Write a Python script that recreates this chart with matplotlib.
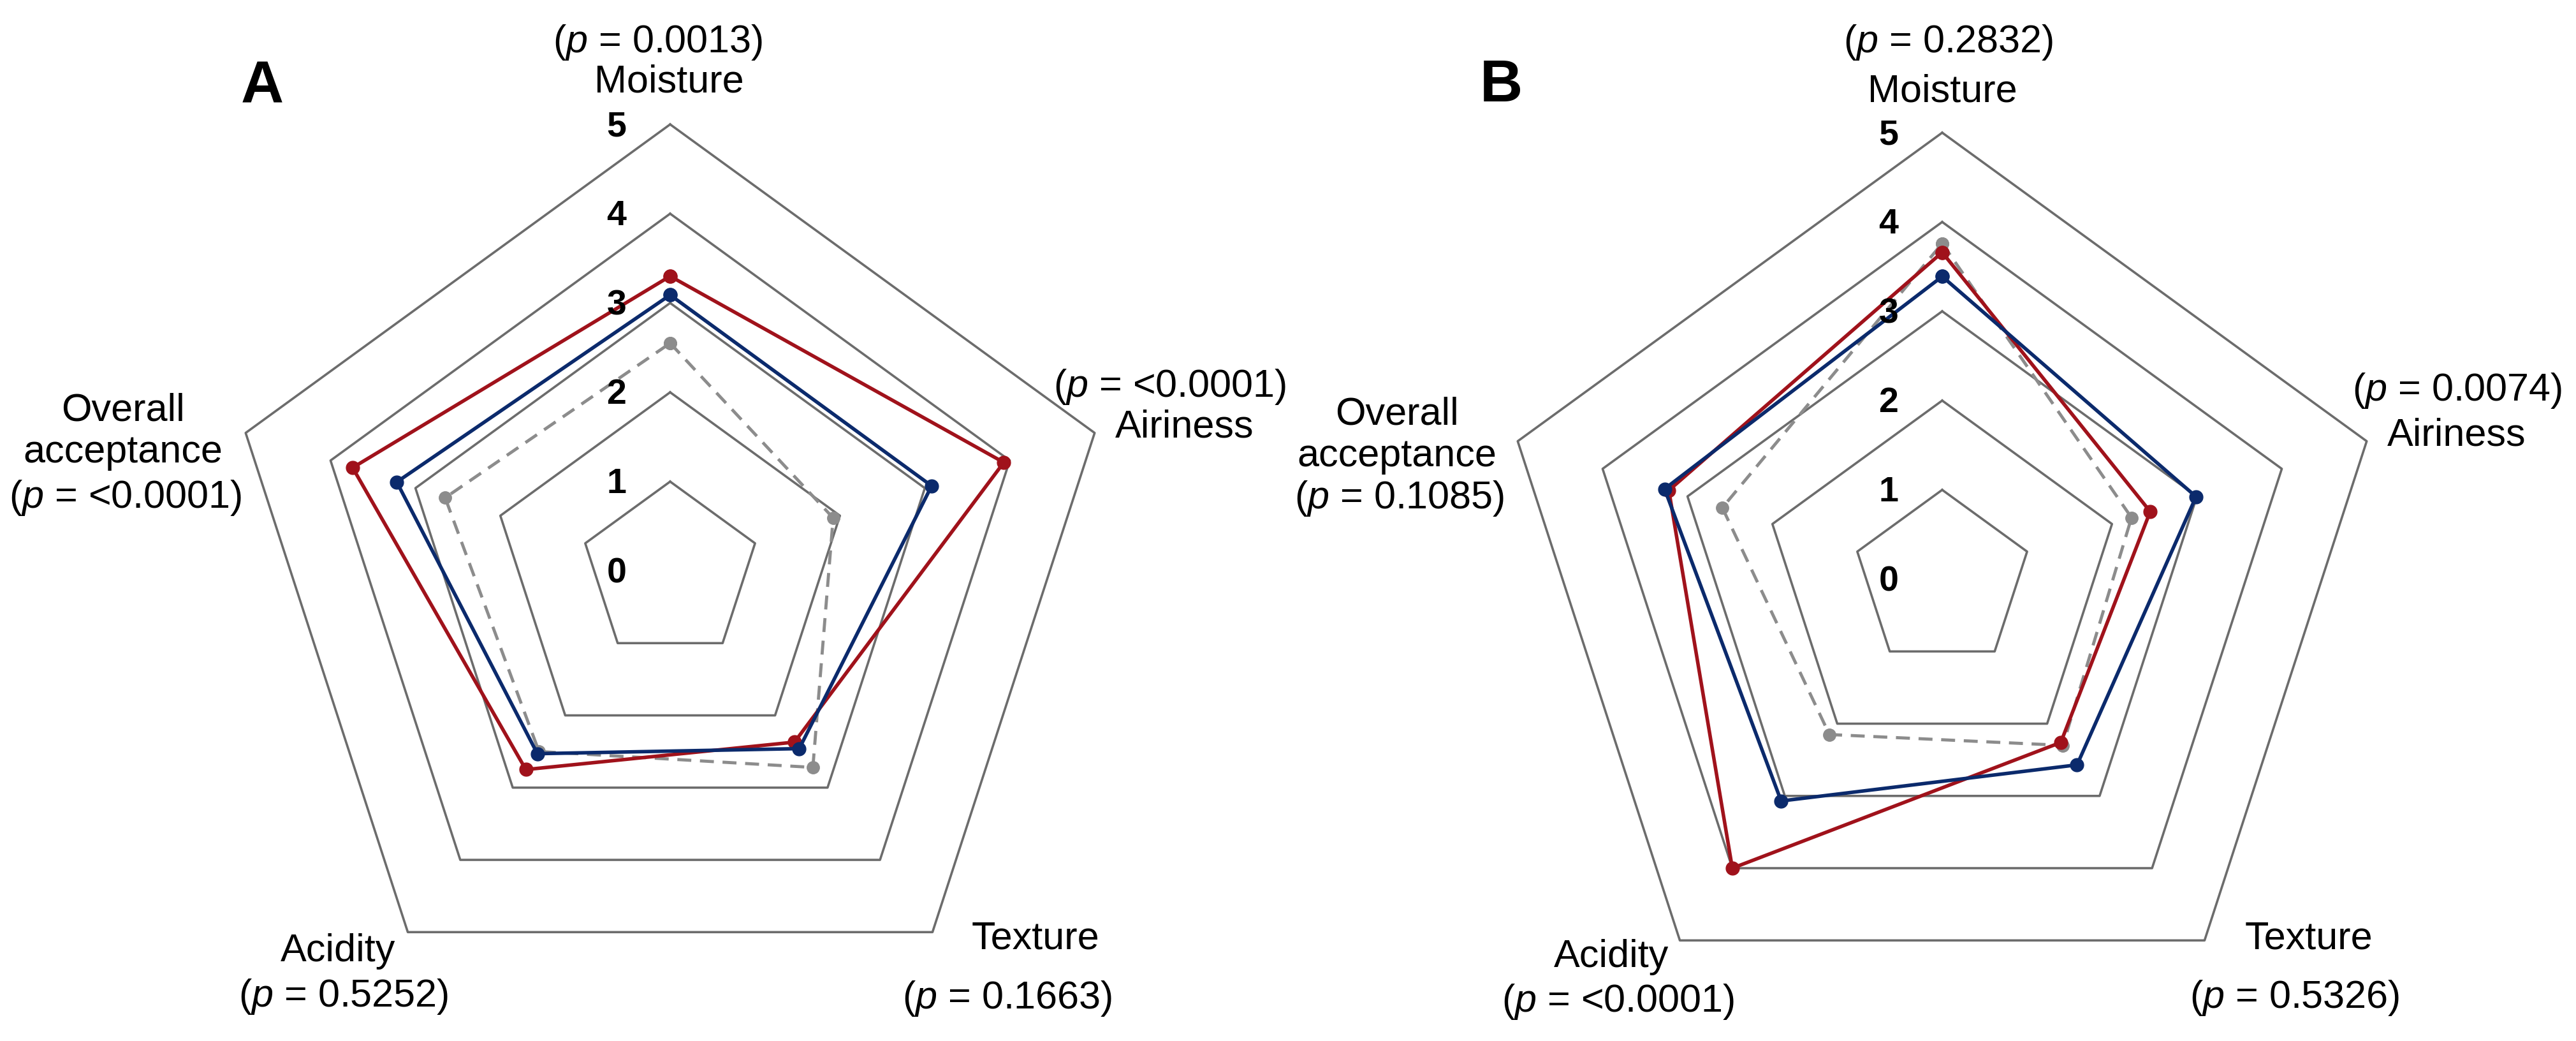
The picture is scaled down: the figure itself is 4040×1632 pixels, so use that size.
import matplotlib
matplotlib.use('Agg')
import matplotlib.pyplot as plt
import numpy as np

# attributes, clockwise from the top
attributes = ['Moisture', 'Airiness', 'Texture', 'Acidity', 'Overall\nacceptance']
p_values_a = ['0.0013', '<0.0001', '0.1663', '0.5252', '<0.0001']
p_values_b = ['0.2832', '0.0074', '0.5326', '<0.0001', '0.1085']

# mean scores
a_red = [3.30, 3.93, 2.37, 2.75, 3.74]
a_blue = [3.09, 3.08, 2.46, 2.53, 3.22]
a_gray = [2.55, 1.92, 2.72, 2.50, 2.65]

b_red = [3.66, 2.45, 2.26, 4.00, 3.22]
b_blue = [3.39, 2.99, 2.57, 3.07, 3.27]
b_gray = [3.76, 2.23, 2.30, 2.15, 2.59]

ring_levels = [1, 2, 3, 4, 5]
tick_labels = ['0', '1', '2', '3', '4', '5']

plt.rcParams['font.family'] = ['Liberation Sans', 'DejaVu Sans']
plt.rcParams['mathtext.fontset'] = 'custom'
plt.rcParams['mathtext.rm'] = 'Liberation Sans'
plt.rcParams['mathtext.it'] = 'Liberation Sans:italic'

W, H = 4041, 1632
UNIT = 140.0   # pixels per score unit
HALF = 995.0

RED = '#a0121b'
BLUE = '#0b2a6c'
GRAY = '#8c8c8c'
RING = '#6c6c6c'

fig = plt.figure(figsize=(W / 100, H / 100), dpi=100)

angles = np.deg2rad(90 - 72 * np.arange(5))


def to_xy(values):
    v = np.array(values + values[:1])
    a = np.append(angles, angles[0])
    return v * np.cos(a), v * np.sin(a)


def make_axes(cx, cy):
    ax = fig.add_axes([(cx - HALF) / W, 0, 2 * HALF / W, 1])
    ax.set_xlim(-HALF / UNIT, HALF / UNIT)
    ax.set_ylim(-(H - cy) / UNIT, cy / UNIT)
    ax.axis('off')
    return ax


def radar(ax, red, blue, gray, pvals, layout, letter):
    # grid pentagons
    for lev in ring_levels:
        x, y = to_xy([lev] * 5)
        ax.plot(x, y, color=RING, linewidth=2.6, zorder=1)
    for i, t in enumerate(tick_labels):
        ax.text(-0.6, i - 0.03, t, fontsize=40, fontweight='bold', ha='center', va='center', zorder=6)

    x, y = to_xy(gray)
    ax.plot(x, y, color=GRAY, linewidth=3.5, linestyle=(0, (4.5, 2.8)), marker='o',
            markersize=14, zorder=3)
    x, y = to_xy(red)
    ax.plot(x, y, color=RED, linewidth=4.0, marker='o', markersize=15, zorder=4)
    x, y = to_xy(blue)
    ax.plot(x, y, color=BLUE, linewidth=4.0, marker='o', markersize=15, zorder=5)

    # attribute names and p values
    for name, p, (nx_, ny_, px_, py_) in zip(attributes, pvals, layout):
        ax.text(nx_, ny_, name, fontsize=44, ha='center', va='center', linespacing=1.2)
        ax.text(px_, py_, '($\\it{p}$ = ' + p + ')', fontsize=44, ha='center', va='center')

    ax.text(letter[0], letter[1], letter[2], fontsize=67, fontweight='bold', ha='center', va='center')


# label layout: name x, name y, p x, p y (score units from centre)
layout_a = [(-0.01, 5.47, -0.14, 5.92),
            (5.76, 1.61, 5.60, 2.06),
            (4.09, -4.12, 3.78, -4.79),
            (-3.72, -4.26, -3.66, -4.77),
            (-6.13, 1.56, -6.10, 0.82)]
layout_b = [(0.0, 5.46, 0.07, 6.01),
            (5.76, 1.61, 5.77, 2.11),
            (4.11, -4.03, 3.95, -4.69),
            (-3.71, -4.23, -3.63, -4.73),
            (-6.11, 1.61, -6.08, 0.90)]

ax_a = make_axes(1051, 895)
radar(ax_a, a_red, a_blue, a_gray, p_values_a, layout_a, (-4.57, 5.42, 'A'))

ax_b = make_axes(3046, 908)
radar(ax_b, b_red, b_blue, b_gray, p_values_b, layout_b, (-4.94, 5.52, 'B'))

plt.savefig('out.png', dpi=100, facecolor='white')
